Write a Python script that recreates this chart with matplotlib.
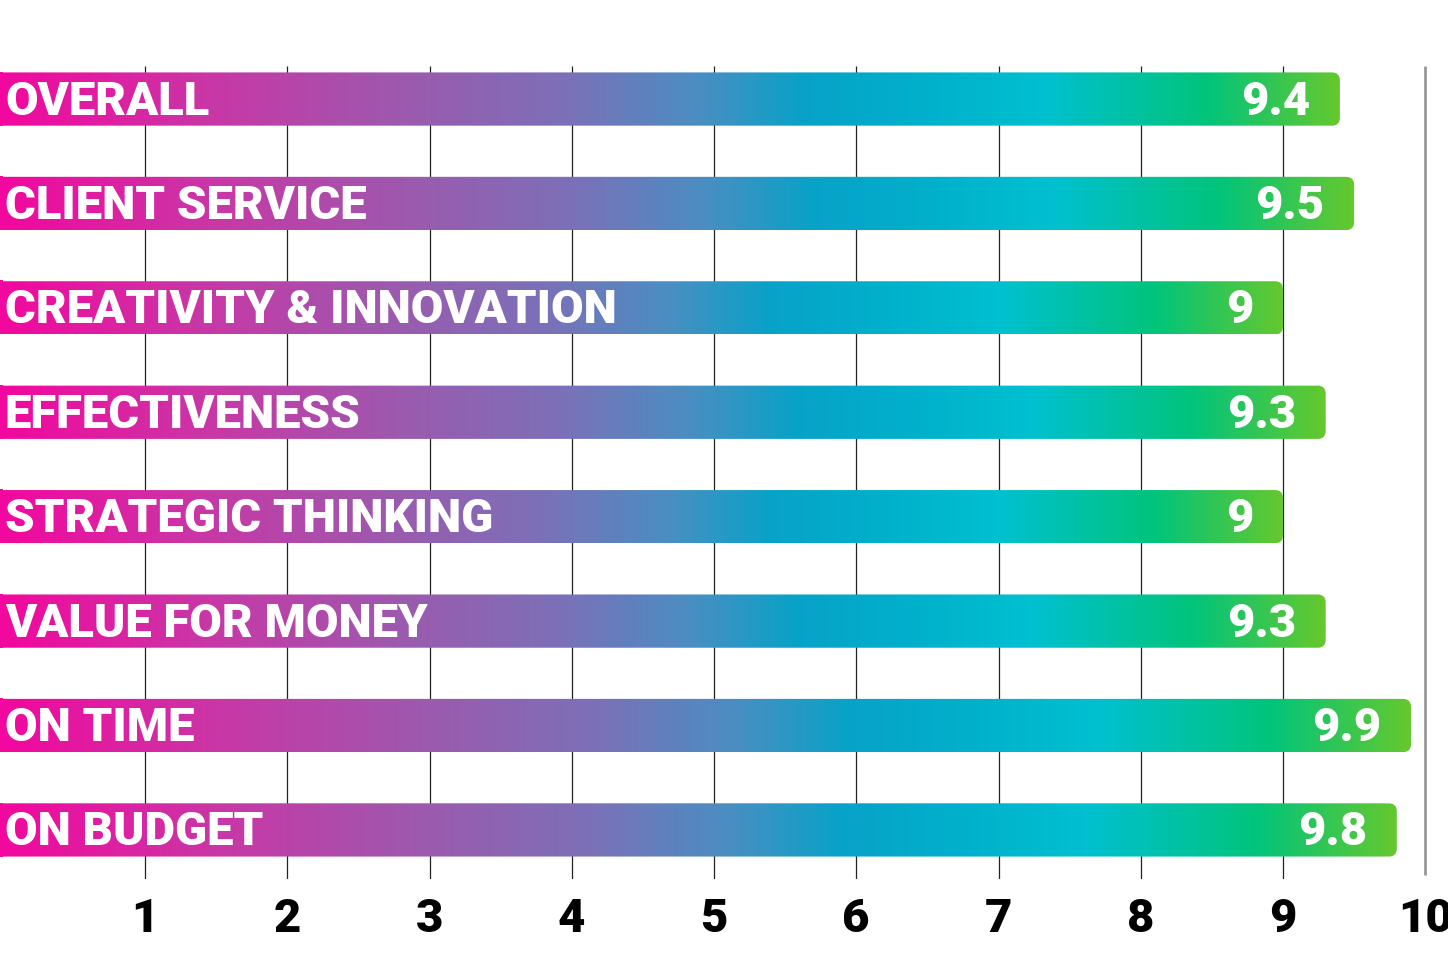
import numpy as np
import matplotlib
matplotlib.use("Agg")
from matplotlib import pyplot as plt
from matplotlib.colors import LinearSegmentedColormap
from matplotlib.patches import FancyBboxPatch

categories = ["OVERALL", "CLIENT SERVICE", "CREATIVITY & INNOVATION", "EFFECTIVENESS",
              "STRATEGIC THINKING", "VALUE FOR MONEY", "ON TIME", "ON BUDGET"]
scores = [9.4, 9.5, 9.0, 9.3, 9.0, 9.3, 9.9, 9.8]
score_labels = ["9.4", "9.5", "9", "9.3", "9", "9.3", "9.9", "9.8"]
ticks = [1, 2, 3, 4, 5, 6, 7, 8, 9, 10]

# gradient stops along each bar (fraction of bar length)
stops = [(0.00, "#F2089E"), (0.15, "#CA36A6"), (0.30, "#9C5AAE"), (0.42, "#7C70B8"),
         (0.52, "#4A8EC2"), (0.60, "#08A2C8"), (0.70, "#00B2CC"), (0.78, "#00C0D0"),
         (0.90, "#00C47C"), (1.00, "#64C82E")]
cmap = LinearSegmentedColormap.from_list("bar", stops)

FONT = ["Roboto", "DejaVu Sans"]

W, H, DPI = 1448, 962, 100
fig = plt.figure(figsize=(W / DPI, H / DPI), dpi=DPI)
# x: 0 -> px 2.75, 142.25 px per unit ; y: row 0 centre at px 100, 104.43 px per row
ax = fig.add_axes([0, (H - 880) / H, 1, (880 - 40) / H])
xmin = -2.75 / 142.25
ax.set_xlim(xmin, xmin + W / 142.25)
ax.set_ylim(7.47, -0.575)

for spine in ax.spines.values():
    spine.set_visible(False)
ax.set_yticks([])

# grid lines
ax.vlines(ticks[:-1], -0.32, 7.47, color="#222222", lw=0.9, zorder=1)
ax.vlines(ticks[-1], -0.32, 7.43, color="#999999", lw=2, zorder=1)

h = 0.51
r = 8 / 142.25
asp = (8 / 104.43) / r
grad = np.linspace(0, 1, 512).reshape(1, -1)
for i, v in enumerate(scores):
    x0 = -0.3
    patch = FancyBboxPatch((x0, i - h / 2), v - x0, h,
                           boxstyle=f"round,pad=0,rounding_size={r}",
                           mutation_aspect=asp, fc="none", ec="none")
    ax.add_patch(patch)
    im = ax.imshow(grad, cmap=cmap, aspect="auto", interpolation="bilinear",
                   extent=(0, v, i + h / 2, i - h / 2), zorder=2)
    im.set_clip_path(patch)
    # extend the left edge
    ax.imshow(grad[:, :1], cmap=cmap, vmin=0, vmax=1, aspect="auto",
              extent=(x0, 0, i + h / 2, i - h / 2), zorder=2)
    ax.text(0.015, i + 0.015, categories[i], color="white", fontsize=34,
            fontweight="black", family=FONT, ha="left", va="center", zorder=3)
    ax.text(v - 0.21, i + 0.015, score_labels[i], color="white", fontsize=34,
            fontweight="black", family=FONT, ha="right", va="center", zorder=3)

ax.set_xticks(ticks)
ax.set_xticklabels([str(t) for t in ticks], fontsize=34, fontweight="black", family=FONT)
ax.tick_params(axis="x", length=0, pad=12)

fig.savefig("out.png", dpi=DPI)
